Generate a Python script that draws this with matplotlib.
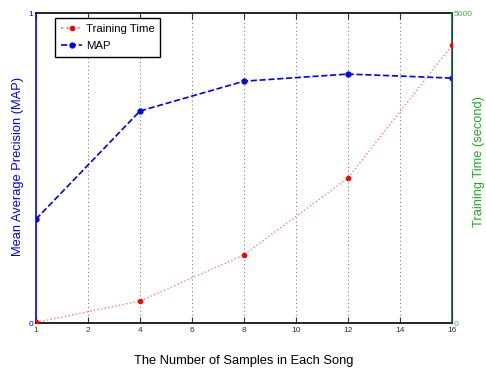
import matplotlib
matplotlib.use('Agg')
import matplotlib.pyplot as plt
from matplotlib.lines import Line2D

plt.rcParams['font.family'] = ['Liberation Sans', 'DejaVu Sans']

# Data (x axis is evenly spaced categories)
samples = [1, 4, 8, 12, 16]
map_vals = [0.335, 0.684, 0.78, 0.803, 0.79]
train_time = [10, 355, 1100, 2340, 4480]
xticks = [1, 2, 4, 6, 8, 10, 12, 14, 16]

pos = [xticks.index(s) for s in samples]
tick_pos = list(range(len(xticks)))

fig = plt.figure(figsize=(4.86, 3.74), dpi=100)
ax1 = fig.add_axes([36/486, 1 - 323/374, (452 - 36)/486, (323 - 13)/374])
ax2 = ax1.twinx()

ax1.plot(pos, map_vals, '--', color='blue', marker='o', markersize=3.5,
         linewidth=1.2, label='MAP', zorder=3)
ax2.plot(pos, train_time, ':', color='#ff8080', linewidth=1.0)
ax2.plot(pos, train_time, 'o', color='red', markersize=3, zorder=4)

ax1.set_xlim(tick_pos[0], tick_pos[-1])
ax1.set_ylim(0, 1)
ax2.set_ylim(0, 5000)
ax1.set_xticks(tick_pos)
ax1.set_xticklabels([str(t) for t in xticks])
ax1.set_yticks([0, 1])
ax2.set_yticks([0, 5000])

for x in tick_pos[1:-1]:
    ax1.axvline(x, color='#808080', linestyle=(0, (1, 2.5)), linewidth=0.8, zorder=1)

ax1.tick_params(axis='x', labelsize=6, direction='in', length=4, colors='#333333', pad=3, top=True)
ax1.tick_params(axis='y', labelsize=6, direction='in', length=0, colors='blue', pad=2)
ax2.tick_params(axis='y', labelsize=6, direction='in', length=0, colors='#44aa44', pad=1)

for side in ['top', 'bottom']:
    ax1.spines[side].set_color('black')
    ax1.spines[side].set_linewidth(1.2)
ax1.spines['left'].set_color('blue')
ax1.spines['left'].set_linewidth(1.2)
ax2.spines['right'].set_color('#1a5c3a')
ax2.spines['right'].set_linewidth(1.2)
ax2.spines['left'].set_visible(False)
ax2.spines['top'].set_visible(False)
ax2.spines['bottom'].set_visible(False)

ax1.set_xlabel('The Number of Samples in Each Song', fontsize=9.3, labelpad=15)
fig.text(18/486, 1 - 166/374, 'Mean Average Precision (MAP)', fontsize=9.3,
         color='blue', rotation=90, ha='center', va='center')
fig.text(479/486, 1 - 162/374, 'Training Time (second)', fontsize=9.3,
         color='#22aa22', rotation=90, ha='center', va='center')

handles = [
    Line2D([], [], linestyle=':', color='#ff8080', marker='o', markerfacecolor='red',
           markeredgecolor='red', markersize=3),
    Line2D([], [], linestyle='--', color='blue', marker='o', markersize=3.5, linewidth=1.2),
]
leg = ax1.legend(handles, ['Training Time', 'MAP'], loc='upper left',
                 bbox_to_anchor=(0.046, 0.984), borderaxespad=0, fontsize=8.2,
                 fancybox=False, framealpha=1, edgecolor='black', handlelength=1.9,
                 borderpad=0.5, labelspacing=0.65, handletextpad=0.3)
leg.get_frame().set_linewidth(1.0)
leg.set_zorder(10)

fig.savefig('out.png', dpi=100)
